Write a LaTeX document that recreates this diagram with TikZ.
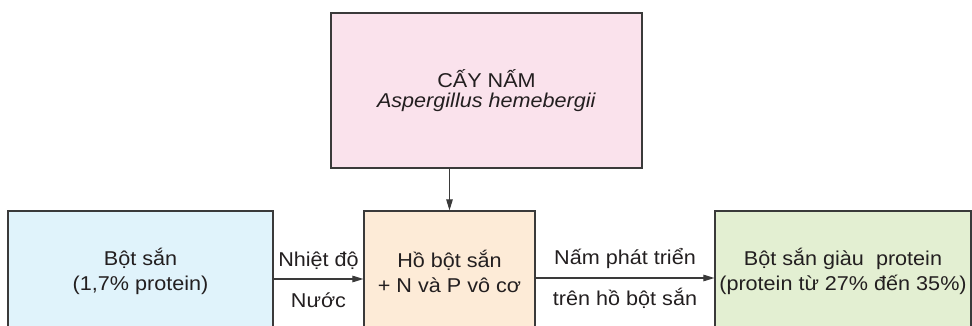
\documentclass[tikz,border=0pt]{standalone}
\usepackage{fontspec}
\setmainfont{Liberation Sans}[FakeStretch=1.08]
\usepackage{xcolor}
\usetikzlibrary{arrows.meta, positioning, calc}
\definecolor{pinkbox}{HTML}{FAE2EC}
\definecolor{bluebox}{HTML}{E0F3FB}
\definecolor{peachbox}{HTML}{FDEBD7}
\definecolor{greenbox}{HTML}{E3EFD2}
\definecolor{darkline}{HTML}{3A3A3A}
\definecolor{darktext}{HTML}{231F20}

\begin{document}
\begin{tikzpicture}[
    x=1pt, y=-1pt,
    box/.style={rectangle, draw=darkline, fill=#1, line width=1.2pt,
                align=center, text=darktext, inner sep=0pt,
                font={\fontsize{20}{25}\selectfont}},
    arrow/.style={-{Triangle[length=11pt, width=6.5pt]}, line width=1.1pt, color=darkline},
    lbl/.style={text=darktext, font={\fontsize{20}{25}\selectfont}, anchor=base}
]

\useasboundingbox (0,0) rectangle (972,326);
\clip (0,0) rectangle (972,326);

\node[box=pinkbox, minimum width=311pt, minimum height=155pt,
      font={\fontsize{20}{20}\selectfont}] (cay) at (486.5,90.5)
    {CẤY NẤM\\\textit{Aspergillus hemebergii}};
\node[box=bluebox, minimum width=265pt, minimum height=120pt] (bot) at (140.5,271)
    {Bột sắn\\(1,7\% protein)};
\node[box=peachbox, minimum width=171pt, minimum height=120pt] (ho) at (449.5,271)
    {Hồ bột sắn\\+ N và P vô cơ};
\node[box=greenbox, minimum width=256pt, minimum height=120pt] (giau) at (843,271)
    {Bột sắn giàu~ protein\\(protein từ 27\% đến 35\%)};

\draw[arrow] (cay.south -| ho.north) -- (ho.north);

% arrows sit a little below the box centres
\draw[arrow] ([yshift=-8pt]bot.east) -- ([yshift=-8pt]ho.west)
    node[lbl, midway, yshift=13pt] {Nhiệt độ}
    node[lbl, midway, yshift=-28pt] {Nước};
\draw[arrow] ([yshift=-7pt]ho.east) -- ([yshift=-7pt]giau.west)
    node[lbl, midway, yshift=14pt] {Nấm phát triển}
    node[lbl, midway, yshift=-27pt] {trên hồ bột sắn};

\end{tikzpicture}
\end{document}
